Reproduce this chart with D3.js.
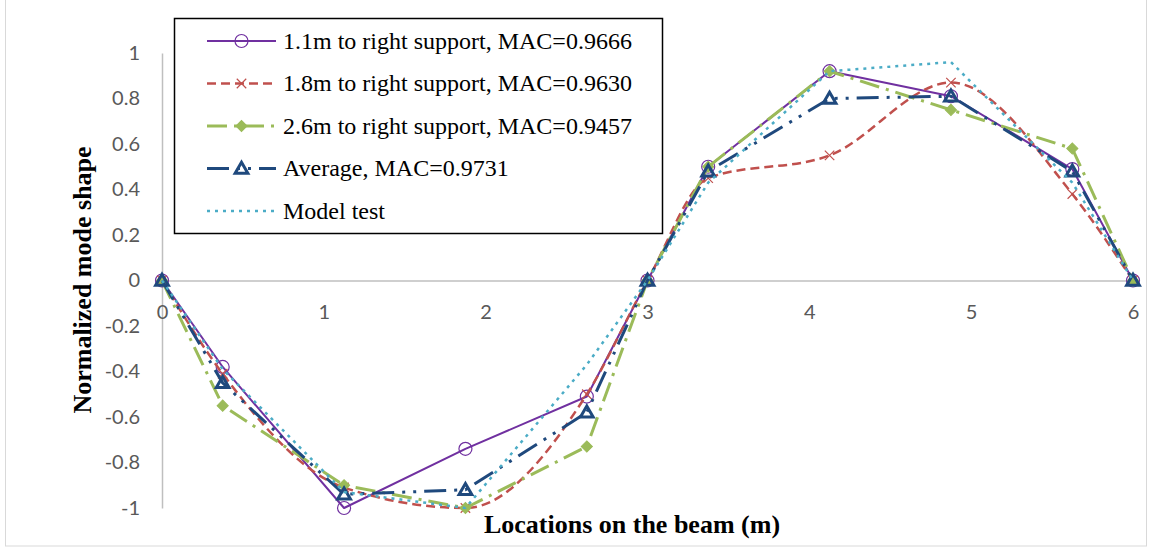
<!DOCTYPE html>
<html>
<head>
<meta charset="utf-8">
<script src="https://cdn.jsdelivr.net/npm/d3@7"></script>
<style>
  body { margin: 0; background: #fff; }
  svg { display: block; }
</style>
</head>
<body>
<svg id="chart" width="1151" height="550"></svg>
<script>
// Sensor locations along the 6 m beam (m)
const locations = [0, 0.375, 1.125, 1.875, 2.625, 3, 3.375, 4.125, 4.875, 5.625, 6];

// Normalized mode shape for each excitation case
const shape11    = [0, -0.38, -1.00, -0.74, -0.51, 0, 0.50, 0.92, 0.81, 0.49, 0];
const shape18    = [0, -0.41, -0.91, -1.00, -0.50, 0, 0.45, 0.55, 0.87, 0.38, 0];
const shape26    = [0, -0.55, -0.90, -1.00, -0.73, 0, 0.50, 0.92, 0.75, 0.58, 0];
const shapeAvg   = [0, -0.45, -0.94, -0.92, -0.58, 0, 0.48, 0.80, 0.81, 0.48, 0];
const shapeModel = [0, -0.39, -0.93, -1.00, -0.37, 0, 0.43, 0.92, 0.96, 0.43, 0];

const seriesNames = [
  "1.1m to right support, MAC=0.9666",
  "1.8m to right support, MAC=0.9630",
  "2.6m to right support, MAC=0.9457",
  "Average, MAC=0.9731",
  "Model test"
];

const xTicks = [0, 1, 2, 3, 4, 5, 6];
const yTicks = [-1, -0.8, -0.6, -0.4, -0.2, 0, 0.2, 0.4, 0.6, 0.8, 1];

const xTitle = "Locations on the beam (m)";
const yTitle = "Normalized mode shape";

// Styling for each series
const styles = [
  { values: shape11,    color: "#7030A0", width: 2,   dash: null,           marker: "circle",   curve: d3.curveLinear },
  { values: shape18,    color: "#C0504D", width: 2.5, dash: "9,5",          marker: "times",    curve: d3.curveMonotoneX },
  { values: shape26,    color: "#9BBB59", width: 3,   dash: "20,7,3,7",     marker: "diamond",  curve: d3.curveLinear },
  { values: shapeAvg,   color: "#1F497D", width: 3,   dash: "22,8,3,8,3,8", marker: "triangle", curve: d3.curveLinear },
  { values: shapeModel, color: "#4BACC6", width: 2.5, dash: "3,5",          marker: null,       curve: d3.curveLinear }
];

const svg = d3.select("#chart");

// Chart area border
svg.append("rect")
  .attr("x", 5.5).attr("y", -1)
  .attr("width", 1141).attr("height", 547)
  .attr("fill", "none").attr("stroke", "#d9d9d9").attr("stroke-width", 1);

const x = d3.scaleLinear().domain([0, 6]).range([162, 1133]);
const y = d3.scaleLinear().domain([-1, 1]).range([508, 53]);

const tickFont = "Lato, 'Open Sans', sans-serif";
const serif = "'Liberation Serif', 'Times New Roman', serif";

// Y axis
const yAxis = svg.append("g")
  .attr("transform", `translate(${x(0)},0)`)
  .call(d3.axisLeft(y).tickValues(yTicks).tickSize(0).tickSizeOuter(0).tickPadding(22)
    .tickFormat(v => String(+v.toFixed(1))));
yAxis.select(".domain").attr("stroke", "#bfbfbf").attr("stroke-width", 1.5);
yAxis.selectAll("text").attr("fill", "#595959").style("font-family", tickFont).style("font-size", "20px");

// X axis along zero line
const xAxis = svg.append("g")
  .attr("transform", `translate(0,${y(0)})`)
  .call(d3.axisBottom(x).tickValues(xTicks).tickSize(0).tickSizeOuter(0).tickPadding(24)
    .tickFormat(d3.format("d")));
xAxis.select(".domain").attr("stroke", "#bfbfbf").attr("stroke-width", 1.5);
xAxis.selectAll("text").attr("fill", "#595959").style("font-family", tickFont).style("font-size", "20px");

// Axis titles
svg.append("text")
  .attr("x", 632).attr("y", 533)
  .attr("text-anchor", "middle")
  .style("font-family", serif).style("font-weight", "bold").style("font-size", "26px")
  .attr("fill", "#000")
  .text(xTitle);

svg.append("text")
  .attr("transform", "translate(91,280) rotate(-90)")
  .attr("text-anchor", "middle")
  .style("font-family", serif).style("font-weight", "bold").style("font-size", "26px")
  .attr("fill", "#000")
  .text(yTitle);

// Marker drawing helper
function drawMarker(g, type, color, cx, cy) {
  if (type === "circle") {
    g.append("circle").attr("cx", cx).attr("cy", cy).attr("r", 6.5)
      .attr("fill", "none").attr("stroke", color).attr("stroke-width", 1.2);
  } else if (type === "times") {
    g.append("path").attr("d", d3.symbol(d3.symbolTimes, 60)())
      .attr("transform", `translate(${cx},${cy})`)
      .attr("fill", "none").attr("stroke", color).attr("stroke-width", 1.2);
  } else if (type === "diamond") {
    g.append("path").attr("d", d3.symbol(d3.symbolSquare, 62)())
      .attr("transform", `translate(${cx},${cy}) rotate(45)`)
      .attr("fill", color).attr("stroke", color).attr("stroke-width", 1);
  } else if (type === "triangle") {
    g.append("path").attr("d", d3.symbol(d3.symbolTriangle, 70)())
      .attr("transform", `translate(${cx},${cy + 1})`)
      .attr("fill", "none").attr("stroke", color).attr("stroke-width", 3)
      .attr("stroke-linejoin", "miter");
  }
}

// Series lines and markers
const plot = svg.append("g");
styles.forEach(s => {
  const pts = locations.map((loc, i) => [loc, s.values[i]]);
  const line = d3.line().x(d => x(d[0])).y(d => y(d[1])).curve(s.curve);
  const g = plot.append("g");
  g.append("path")
    .attr("d", line(pts))
    .attr("fill", "none")
    .attr("stroke", s.color)
    .attr("stroke-width", s.width)
    .attr("stroke-dasharray", s.dash)
    .attr("stroke-linejoin", "round");
  if (s.marker) {
    pts.forEach(p => drawMarker(g, s.marker, s.color, x(p[0]), y(p[1])));
  }
});

// Legend
const legend = svg.append("g");
legend.append("rect")
  .attr("x", 174.5).attr("y", 18.5).attr("width", 488).attr("height", 215)
  .attr("fill", "#fff").attr("stroke", "#000").attr("stroke-width", 1.5);

const rowY = [41, 83.5, 126, 168.5, 211];
styles.forEach((s, i) => {
  const ry = rowY[i];
  const row = legend.append("g");
  row.append("line")
    .attr("x1", 207).attr("x2", 276).attr("y1", ry).attr("y2", ry)
    .attr("stroke", s.color).attr("stroke-width", s.width)
    .attr("stroke-dasharray", s.dash);
  if (s.marker) drawMarker(row, s.marker, s.color, 241.5, ry);
  row.append("text")
    .attr("x", 283).attr("y", ry).attr("dy", "0.33em")
    .style("font-family", serif).style("font-size", "24px")
    .attr("fill", "#000")
    .text(seriesNames[i]);
});
</script>
</body>
</html>
